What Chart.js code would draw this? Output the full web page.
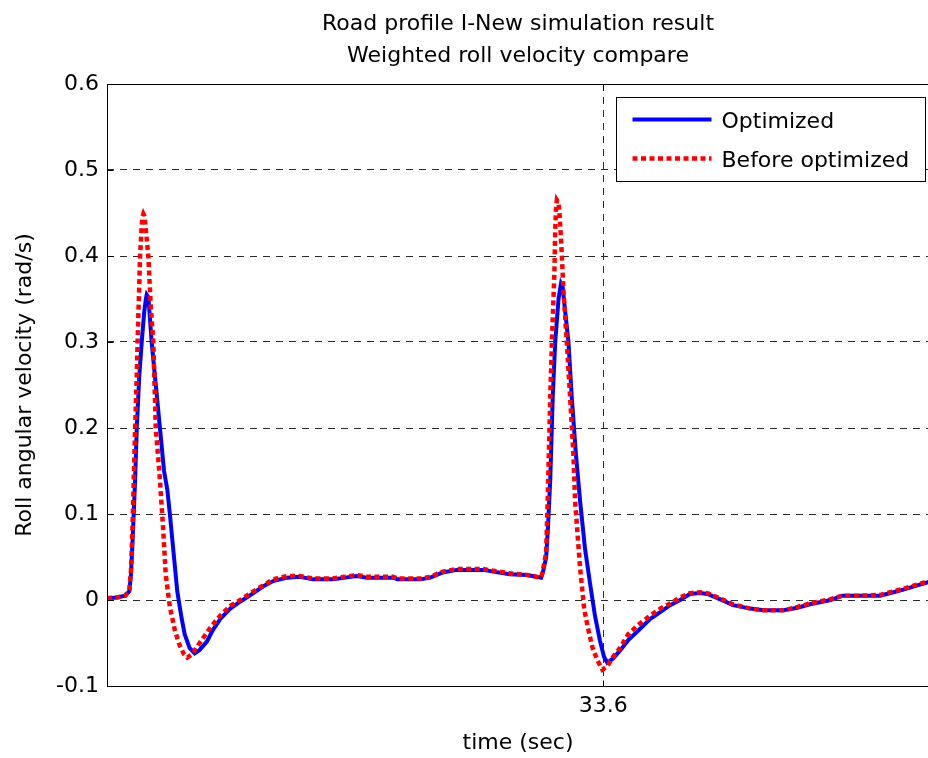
<!DOCTYPE html>
<html>
<head>
<meta charset="utf-8">
<title>Weighted roll velocity compare</title>
<script src="https://cdn.jsdelivr.net/npm/chart.js@4.4.1/dist/chart.umd.min.js"></script>
<style>
  html, body { margin: 0; padding: 0; background: #fff; overflow: hidden; }
  canvas { display: block; }
</style>
</head>
<body>
<canvas id="rollChart" width="930" height="758"></canvas>
<script>
const FONT_FAMILY = "'DejaVu Sans', 'Liberation Sans', sans-serif";

const titleLines = ["Road profile I-New simulation result", "Weighted roll velocity compare"];
const xTicks = [33.6];
const yTicks = [-0.1, 0, 0.1, 0.2, 0.3, 0.4, 0.5, 0.6];

/* -------------------- OPTIMIZED (solid blue) -------------------- */
const optTime = [
    33.000, 33.012, 33.022, 33.027, 33.029, 33.031, 33.034, 33.036, 33.039, 33.042,
    33.045, 33.047, 33.048, 33.050, 33.051, 33.054, 33.059, 33.064, 33.069, 33.073,
    33.076, 33.080, 33.085, 33.090, 33.094, 33.100, 33.106, 33.112, 33.121, 33.128,
    33.137, 33.149, 33.161, 33.177, 33.189, 33.201, 33.218, 33.233, 33.249, 33.273,
    33.302, 33.314, 33.346, 33.351, 33.379, 33.391, 33.406, 33.423, 33.455, 33.467,
    33.487, 33.508, 33.525, 33.527, 33.531, 33.533, 33.536, 33.539, 33.542, 33.546,
    33.548, 33.549, 33.551, 33.553, 33.558, 33.562, 33.567, 33.572, 33.578, 33.584,
    33.590, 33.596, 33.601, 33.605, 33.612, 33.621, 33.630, 33.641, 33.657, 33.669,
    33.681, 33.693, 33.705, 33.717, 33.726, 33.741, 33.757, 33.778, 33.794, 33.818,
    33.835, 33.850, 33.875, 33.889, 33.911, 33.935, 33.951, 33.963, 33.980, 33.994
];
const optVel = [
    0.002, 0.003, 0.005, 0.010, 0.030, 0.070, 0.140, 0.200, 0.260, 0.300,
    0.335, 0.350, 0.355, 0.352, 0.340, 0.300, 0.250, 0.200, 0.150, 0.128,
    0.100, 0.060, 0.010, -0.020, -0.040, -0.056, -0.062, -0.058, -0.048, -0.035,
    -0.022, -0.010, -0.002, 0.008, 0.016, 0.022, 0.026, 0.027, 0.024, 0.024,
    0.028, 0.026, 0.026, 0.024, 0.024, 0.026, 0.032, 0.035, 0.035, 0.033,
    0.030, 0.029, 0.026, 0.032, 0.049, 0.080, 0.140, 0.236, 0.300, 0.350,
    0.362, 0.368, 0.364, 0.345, 0.300, 0.236, 0.170, 0.116, 0.060, 0.020,
    -0.018, -0.047, -0.066, -0.073, -0.068, -0.058, -0.047, -0.037, -0.022, -0.014,
    -0.006, 0.000, 0.007, 0.008, 0.007, 0.001, -0.006, -0.010, -0.012, -0.012,
    -0.009, -0.005, 0.000, 0.005, 0.005, 0.005, 0.009, 0.012, 0.017, 0.021
];

/* -------------------- BEFORE OPTIMIZED (red dotted) -------------------- */
const befTime = [
    33.000, 33.012, 33.022, 33.027, 33.029, 33.031, 33.034, 33.036, 33.037, 33.040,
    33.042, 33.043, 33.044, 33.045, 33.046, 33.050, 33.053, 33.056, 33.059, 33.064,
    33.068, 33.071, 33.076, 33.082, 33.088, 33.093, 33.097, 33.103, 33.112, 33.125,
    33.137, 33.149, 33.161, 33.177, 33.201, 33.218, 33.233, 33.249, 33.273, 33.302,
    33.314, 33.346, 33.351, 33.379, 33.391, 33.406, 33.423, 33.455, 33.467, 33.487,
    33.508, 33.525, 33.527, 33.531, 33.533, 33.536, 33.538, 33.541, 33.542, 33.543,
    33.544, 33.546, 33.547, 33.549, 33.552, 33.556, 33.560, 33.564, 33.566, 33.572,
    33.577, 33.581, 33.587, 33.593, 33.599, 33.605, 33.612, 33.621, 33.630, 33.641,
    33.657, 33.669, 33.681, 33.693, 33.705, 33.717, 33.726, 33.741, 33.757, 33.778,
    33.794, 33.818, 33.835, 33.850, 33.875, 33.889, 33.911, 33.935, 33.951, 33.963,
    33.980, 33.994
];
const befVel = [
    0.002, 0.003, 0.005, 0.012, 0.035, 0.090, 0.200, 0.260, 0.300, 0.400,
    0.435, 0.446, 0.449, 0.447, 0.440, 0.400, 0.340, 0.300, 0.200, 0.140,
    0.081, 0.030, -0.008, -0.035, -0.053, -0.063, -0.067, -0.063, -0.050, -0.032,
    -0.018, -0.007, 0.000, 0.010, 0.024, 0.028, 0.028, 0.025, 0.025, 0.029,
    0.027, 0.027, 0.025, 0.025, 0.027, 0.033, 0.036, 0.036, 0.034, 0.031,
    0.029, 0.026, 0.034, 0.055, 0.120, 0.236, 0.300, 0.380, 0.430, 0.455,
    0.465, 0.462, 0.452, 0.420, 0.360, 0.300, 0.236, 0.170, 0.116, 0.038,
    -0.010, -0.030, -0.055, -0.070, -0.081, -0.077, -0.066, -0.055, -0.040, -0.030,
    -0.018, -0.010, -0.004, 0.003, 0.008, 0.009, 0.008, 0.002, -0.005, -0.010,
    -0.012, -0.012, -0.008, -0.004, 0.001, 0.005, 0.005, 0.006, 0.010, 0.013,
    0.018, 0.022
];

const toPoints = (xs, ys) => xs.map((x, i) => ({ x: x, y: ys[i] }));

/* -------------------- FRAME + LEGEND -------------------- */
// Closed box round the axes with inward ticks, then a boxed legend in the top-right corner
const boxAndLegend = {
    id: "boxAndLegend",
    afterDraw(chart) {
        const { ctx, chartArea: a, scales } = chart;
        const l = Math.round(a.left) + 0.5;
        const t = Math.round(a.top) + 0.5;
        const r = Math.round(a.right) - 0.5;
        const b = Math.round(a.bottom) + 0.5;

        ctx.save();
        ctx.strokeStyle = "#000";
        ctx.lineWidth = 1;
        ctx.setLineDash([]);
        ctx.strokeRect(l, t, r - l, b - t);

        ctx.beginPath();
        yTicks.forEach(v => {
            const y = Math.round(scales.y.getPixelForValue(v)) + 0.5;
            ctx.moveTo(l, y); ctx.lineTo(l + 6, y);
        });
        xTicks.forEach(v => {
            const x = Math.round(scales.x.getPixelForValue(v)) + 0.5;
            ctx.moveTo(x, b); ctx.lineTo(x, b - 6);
            ctx.moveTo(x, t); ctx.lineTo(x, t + 6);
        });
        ctx.stroke();

        // legend box
        const boxW = 309, boxH = 84;
        const bx = Math.round(a.right) - 4 - boxW + 0.5;
        const by = Math.round(a.top) + 13 + 0.5;
        ctx.fillStyle = "#fff";
        ctx.fillRect(bx, by, boxW, boxH);
        ctx.strokeRect(bx, by, boxW, boxH);

        ctx.font = "22px " + FONT_FAMILY;
        ctx.textBaseline = "alphabetic";
        ctx.textAlign = "left";
        const rowY = [22, 61];
        chart.data.datasets.forEach((ds, i) => {
            const y = by + rowY[i];
            ctx.save();
            ctx.strokeStyle = ds.borderColor;
            ctx.lineWidth = ds.borderWidth;
            ctx.setLineDash(ds.borderDash || []);
            ctx.beginPath();
            ctx.moveTo(bx + 16, y);
            ctx.lineTo(bx + 95, y);
            ctx.stroke();
            ctx.restore();
            ctx.fillStyle = "#000";
            ctx.fillText(ds.label, bx + 105, y + 8.5);
        });
        ctx.restore();
    }
};

const axisFont = { family: FONT_FAMILY, size: 22, weight: "normal" };

new Chart(document.getElementById("rollChart"), {
    type: "line",
    data: {
        datasets: [
            {
                label: "Optimized",
                data: toPoints(optTime, optVel),
                borderColor: "#0000ff",
                borderWidth: 4,
                pointRadius: 0,
                tension: 0,
                order: 1
            },
            {
                label: "Before optimized",
                data: toPoints(befTime, befVel),
                borderColor: "#ff0000",
                borderWidth: 4.5,
                borderDash: [5, 3.5],
                borderCapStyle: "butt",
                pointRadius: 0,
                tension: 0,
                order: 0
            }
        ]
    },
    options: {
        responsive: false,
        animation: false,
        devicePixelRatio: 1,
        layout: { padding: { top: 0, right: 1, bottom: 0, left: 0 } },
        plugins: {
            legend: { display: false },
            tooltip: { enabled: false },
            title: {
                display: true,
                fullSize: false,
                text: titleLines,
                color: "#000",
                font: { family: FONT_FAMILY, size: 22, weight: "normal", lineHeight: 1.45 },
                padding: { top: 8.4, bottom: 11.8 }
            }
        },
        scales: {
            x: {
                type: "linear",
                min: 33.0,
                max: 33.994,
                afterBuildTicks: scale => { scale.ticks = xTicks.map(v => ({ value: v })); },
                afterFit: scale => { scale.height = 72; },
                grid: { color: "#2a2a2a", lineWidth: 1, drawTicks: false },
                border: { display: false, dash: [7, 6] },
                ticks: {
                    color: "#000",
                    font: axisFont,
                    padding: 7,
                    maxRotation: 0,
                    autoSkip: false,
                    callback: v => Number(v).toFixed(1)
                },
                title: {
                    display: true,
                    text: "time (sec)",
                    color: "#000",
                    font: axisFont,
                    padding: { top: 0, bottom: 2 }
                }
            },
            y: {
                min: -0.1,
                max: 0.6,
                afterBuildTicks: scale => { scale.ticks = yTicks.map(v => ({ value: v })); },
                afterFit: scale => { scale.width = 107; },
                grid: { color: "#2a2a2a", lineWidth: 1, drawTicks: false },
                border: { display: false, dash: [7, 6] },
                ticks: {
                    color: "#000",
                    font: axisFont,
                    padding: 8,
                    callback: v => String(Number(Number(v).toFixed(1)))
                },
                title: {
                    display: true,
                    text: "Roll angular velocity (rad/s)",
                    color: "#000",
                    font: axisFont,
                    padding: { top: 12, bottom: 0 }
                }
            }
        }
    },
    plugins: [boxAndLegend]
});
</script>
</body>
</html>
